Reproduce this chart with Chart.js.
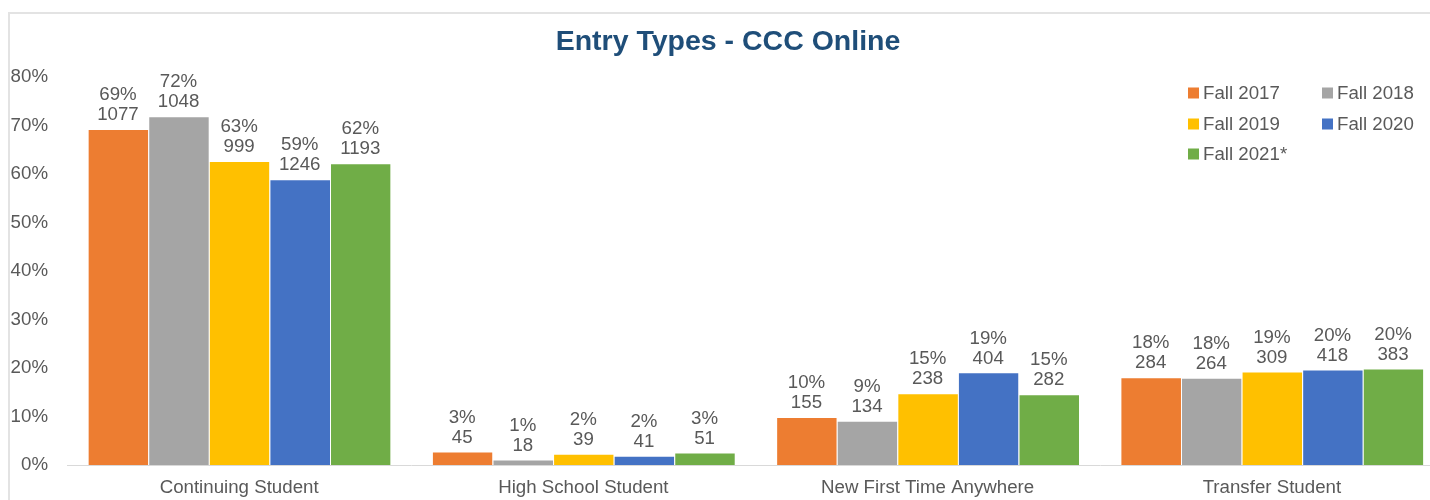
<!DOCTYPE html>
<html>
<head>
<meta charset="utf-8">
<script src="https://cdn.jsdelivr.net/npm/chart.js@4"></script>
<style>
    html, body { margin: 0; padding: 0; background: #fff; overflow: hidden; width: 1430px; height: 500px; }
    #frame { position: absolute; left: 8px; top: 12px; width: 1500px; height: 600px; border-left: 2px solid #e3e3e3; border-top: 2px solid #e3e3e3; }
    #wrap { position: absolute; left: 0; top: 0; width: 1444px; height: 500px; }
</style>
</head>
<body>
<div id="frame"></div>
<div id="wrap"><canvas id="entry"></canvas></div>
<script>
const categories = ['Continuing Student', 'High School Student', 'New First Time Anywhere', 'Transfer Student'];
const terms = ['Fall 2017', 'Fall 2018', 'Fall 2019', 'Fall 2020', 'Fall 2021*'];
const colors = ['#ED7D31', '#A5A5A5', '#FFC000', '#4472C4', '#70AD47'];

// percent share per category
const pct2017 = [69.3, 2.8, 9.9, 18.1];
const pct2018 = [71.9, 1.15, 9.1, 18.0];
const pct2019 = [62.7, 2.3, 14.8, 19.3];
const pct2020 = [58.9, 1.9, 19.1, 19.7];
const pct2021 = [62.2, 2.6, 14.6, 19.9];

// headcounts per category
const cnt2017 = [1077, 45, 155, 284];
const cnt2018 = [1048, 18, 134, 264];
const cnt2019 = [999, 39, 238, 309];
const cnt2020 = [1246, 41, 404, 418];
const cnt2021 = [1193, 51, 282, 383];

const yTicks = [0, 10, 20, 30, 40, 50, 60, 70, 80];

const pctSets = [pct2017, pct2018, pct2019, pct2020, pct2021];
const cntSets = [cnt2017, cnt2018, cnt2019, cnt2020, cnt2021];

const FONT = '"Liberation Sans", Arial, sans-serif';
const TEXT = '#595959';
const FS = 18.7;

// title + legend + bar labels
const extras = {
    id: 'extras',
    afterDatasetsDraw(chart) {
        const ctx = chart.ctx;
        ctx.save();
        ctx.font = FS + 'px ' + FONT;
        ctx.fillStyle = TEXT;
        ctx.textAlign = 'center';
        ctx.textBaseline = 'middle';
        chart.data.datasets.forEach((ds, di) => {
            const meta = chart.getDatasetMeta(di);
            meta.data.forEach((bar, i) => {
                ctx.fillText(Math.round(ds.data[i]) + '%', bar.x, bar.y - 34);
                ctx.fillText(String(cntSets[di][i]), bar.x, bar.y - 14);
            });
        });
        ctx.restore();
    },
    afterDraw(chart) {
        const ctx = chart.ctx;
        ctx.save();
        ctx.font = 'bold 28.5px ' + FONT;
        ctx.fillStyle = '#1F4E79';
        ctx.textAlign = 'center';
        ctx.textBaseline = 'middle';
        ctx.fillText('Entry Types - CCC Online', 728, 42);

        ctx.font = FS + 'px ' + FONT;
        ctx.textAlign = 'left';
        const colX = [1188, 1322];
        const rowY = [93, 124, 154];
        chart.data.datasets.forEach((ds, di) => {
            const x = colX[di % 2];
            const y = rowY[Math.floor(di / 2)];
            ctx.fillStyle = ds.backgroundColor;
            ctx.fillRect(x, y - 5.5, 11, 11);
            ctx.fillStyle = TEXT;
            ctx.fillText(ds.label, x + 15, y + 1);
        });
        ctx.restore();
    }
};

new Chart(document.getElementById('entry'), {
    type: 'bar',
    data: {
        labels: categories,
        datasets: terms.map((t, i) => ({
            label: t,
            data: pctSets[i],
            backgroundColor: colors[i],
            borderColor: '#ffffff',
            borderWidth: { left: 1, right: 0, top: 1, bottom: 0 },
            borderSkipped: 'bottom',
            categoryPercentage: 0.88,
            barPercentage: 1
        }))
    },
    options: {
        responsive: true,
        maintainAspectRatio: false,
        animation: false,
        layout: { padding: { top: 77, left: 0, right: 0, bottom: 0 } },
        plugins: {
            legend: { display: false },
            title: { display: false },
            tooltip: { enabled: false }
        },
        scales: {
            x: {
                grid: { display: false, drawTicks: false },
                border: { display: true, color: '#d9d9d9', width: 1 },
                ticks: { color: TEXT, font: { family: FONT, size: FS }, padding: 12, maxRotation: 0 },
                afterFit(scale) { scale.height = 35; }
            },
            y: {
                min: 0,
                max: 80,
                grid: { display: false, drawTicks: false },
                border: { display: false },
                afterBuildTicks(scale) { scale.ticks = yTicks.map(v => ({ value: v })); },
                ticks: {
                    color: TEXT,
                    font: { family: FONT, size: FS },
                    padding: 19,
                    callback: v => v + '%'
                },
                afterFit(scale) { scale.width = 67; }
            }
        }
    },
    plugins: [extras]
});
</script>
</body>
</html>
